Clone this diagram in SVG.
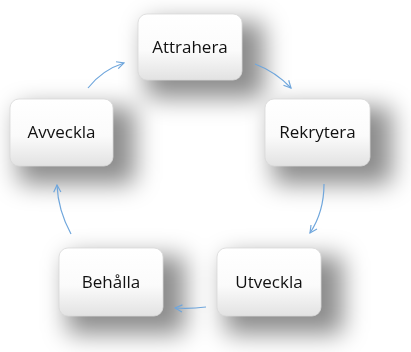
<svg xmlns="http://www.w3.org/2000/svg" width="411" height="352" viewBox="0 0 411 352">
<style>
.box{fill:url(#g);stroke:#d9d9d9;stroke-width:0.8}
.sh{fill:#000;opacity:0.45}
.lbl{font-family:"Open Sans","Liberation Sans",sans-serif;font-size:17px;fill:#111;text-anchor:middle}
.arr{fill:none;stroke:#6fa6dc;stroke-width:1.2;marker-end:url(#ah)}
</style>
<defs>
<linearGradient id="g" x1="0" y1="0" x2="0" y2="1">
<stop offset="0" stop-color="#ffffff"/>
<stop offset="0.55" stop-color="#fbfbfb"/>
<stop offset="1" stop-color="#e2e2e2"/>
</linearGradient>
<filter id="blur" x="-50%" y="-50%" width="200%" height="200%">
<feGaussianBlur stdDeviation="12"/>
</filter>
<marker id="ah" viewBox="0 0 10 10" refX="9" refY="5" markerWidth="9" markerHeight="9" markerUnits="userSpaceOnUse" orient="auto">
<path d="M1,1 L9,5 L1,9" fill="none" stroke="#6fa6dc" stroke-width="1.3"/>
</marker>
</defs>
<rect width="411" height="352" fill="#fff"/>
<g id="shadows" filter="url(#blur)">
<rect class="sh" x="146" y="22" width="118" height="76" rx="6"/>
<rect class="sh" x="18" y="107" width="117" height="77" rx="6"/>
<rect class="sh" x="273" y="107" width="119" height="77" rx="6"/>
<rect class="sh" x="67" y="256" width="118" height="78" rx="6"/>
<rect class="sh" x="225" y="256" width="118" height="78" rx="6"/>
</g>
<g id="connectors">
<path class="arr" d="M88,88 Q102,70 124,63"/>
<path class="arr" d="M255,64 Q276,72 291,88"/>
<path class="arr" d="M324,184 Q324,212 310,233"/>
<path class="arr" d="M206,307 Q190,309 175,308"/>
<path class="arr" d="M71,234 Q58,210 57,185"/>
</g>
<g id="attrahera">
<rect class="box" x="138" y="14" width="104" height="66" rx="9"/>
<text class="lbl" x="190" y="52.5">Attrahera</text>
</g>
<g id="rekrytera">
<rect class="box" x="265" y="99" width="105" height="67" rx="9"/>
<text class="lbl" x="317.5" y="138">Rekrytera</text>
</g>
<g id="utveckla">
<rect class="box" x="217" y="248" width="104" height="68" rx="9"/>
<text class="lbl" x="269" y="287.5">Utveckla</text>
</g>
<g id="behalla">
<rect class="box" x="59" y="248" width="104" height="68" rx="9"/>
<text class="lbl" x="111" y="287.5">Behålla</text>
</g>
<g id="avveckla">
<rect class="box" x="10" y="99" width="103" height="67" rx="9"/>
<text class="lbl" x="61.5" y="138">Avveckla</text>
</g>
</svg>
